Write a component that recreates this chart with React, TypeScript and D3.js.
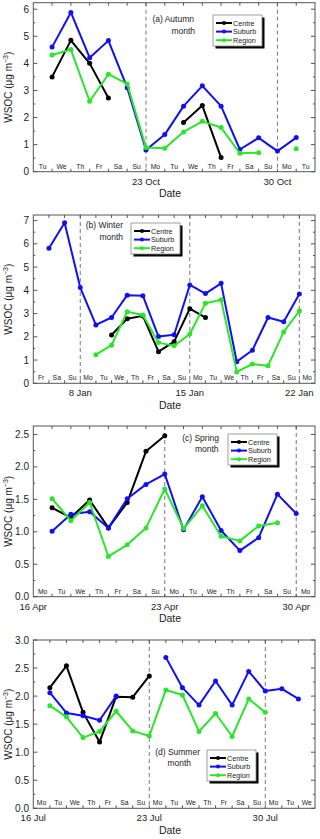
import React from "react";
import * as d3 from "d3";

// ---------- DATA ----------
const seriesNames = ["Centre", "Suburb", "Region"];
const seriesColors = ["#000000", "#1010f0", "#2ae62a"];

const autumnDates = ["2017-10-18","2017-10-19","2017-10-20","2017-10-21","2017-10-22","2017-10-23","2017-10-24","2017-10-25","2017-10-26","2017-10-27","2017-10-28","2017-10-29","2017-10-30","2017-10-31"];
const autumnCentre = [3.5, 4.85, 4.0, 2.72, null, null, null, 1.82, 2.44, 0.52, null, null, null, null];
const autumnSuburb = [4.6, 5.88, 4.21, 4.84, 3.1, 0.8, 1.37, 2.42, 3.17, 2.42, 0.82, 1.25, 0.76, 1.26];
const autumnRegion = [4.31, 4.51, 2.6, 3.6, 3.24, 0.89, 0.87, 1.47, 1.86, 1.63, 0.68, 0.7, null, 0.85];

const winterDates = ["2018-01-06","2018-01-07","2018-01-08","2018-01-09","2018-01-10","2018-01-11","2018-01-12","2018-01-13","2018-01-14","2018-01-15","2018-01-16","2018-01-17","2018-01-18","2018-01-19","2018-01-20","2018-01-21","2018-01-22"];
const winterCentre = [null, null, null, null, 2.08, 2.78, 2.9, 1.36, 1.79, 3.21, 2.83, null, null, null, null, null, null];
const winterSuburb = [5.81, 6.91, 4.12, 2.51, 2.83, 3.79, 3.77, 2.01, 2.09, 4.23, 3.86, 4.3, 0.93, 1.42, 2.83, 2.65, 3.84];
const winterRegion = [null, null, null, 1.23, 1.64, 3.08, 2.94, 1.75, 1.61, 2.12, 3.44, 3.59, 0.49, 0.83, 0.76, 2.21, 3.11];

const springDates = ["2018-04-17","2018-04-18","2018-04-19","2018-04-20","2018-04-21","2018-04-22","2018-04-23","2018-04-24","2018-04-25","2018-04-26","2018-04-27","2018-04-28","2018-04-29","2018-04-30"];
const springCentre = [1.37, 1.22, 1.49, 1.06, 1.45, 2.24, 2.48, null, null, null, null, null, null, null];
const springSuburb = [1.01, 1.27, 1.31, 1.06, 1.51, 1.73, 1.89, 1.03, 1.54, 1.02, 0.71, 0.91, 1.58, 1.28];
const springRegion = [1.51, 1.17, 1.45, 0.62, 0.8, 1.06, 1.66, 1.05, 1.4, 0.93, 0.86, 1.09, 1.14, null];

const summerDates = ["2018-07-17","2018-07-18","2018-07-19","2018-07-20","2018-07-21","2018-07-22","2018-07-23","2018-07-24","2018-07-25","2018-07-26","2018-07-27","2018-07-28","2018-07-29","2018-07-30","2018-07-31","2018-08-01"];
const summerCentre = [2.15, 2.54, 1.71, 1.18, 1.99, 1.98, 2.36, null, null, null, null, null, null, null, null, null];
const summerSuburb = [2.06, 1.7, 1.65, 1.57, 2.0, null, null, 2.69, 2.15, 1.84, 2.27, 1.84, 2.44, 2.09, 2.13, 1.95];
const summerRegion = [1.83, 1.63, 1.26, 1.37, 1.73, 1.38, 1.29, 2.11, 2.02, 1.37, 1.69, 1.28, 1.95, 1.71, null, null];

const dayAbbr = ["Su", "Mo", "Tu", "We", "Th", "Fr", "Sa"];

const panels = [
  {
    title: ["(a) Autumn", "month"], dates: autumnDates, series: [autumnCentre, autumnSuburb, autumnRegion],
    xStart: "2017-10-17", xEnd: "2017-11-01", weekLines: ["2017-10-23", "2017-10-30"], weekLabels: ["23 Oct", "30 Oct"],
    yMax: 6.24, yTicks: [0, 1, 2, 3, 4, 5, 6], yMinor: 0.5, yFmt: "d",
    top: 2.7, bottom: 171.7, titlePos: [194, 22, 195, 33.5], legendPos: [213, 15],
  },
  {
    title: ["(b) Winter", "month"], dates: winterDates, series: [winterCentre, winterSuburb, winterRegion],
    xStart: "2018-01-05", xEnd: "2018-01-23", weekLines: ["2018-01-08", "2018-01-15", "2018-01-22"], weekLabels: ["8 Jan", "15 Jan", "22 Jan"],
    yMax: 7.24, yTicks: [0, 1, 2, 3, 4, 5, 6, 7], yMinor: 0.5, yFmt: "d",
    top: 215, bottom: 383.3, titlePos: [123, 228, 123, 239.5], legendPos: [131, 223],
  },
  {
    title: ["(c) Spring", "month"], dates: springDates, series: [springCentre, springSuburb, springRegion],
    xStart: "2018-04-16", xEnd: "2018-05-01", weekLines: ["2018-04-23", "2018-04-30"], weekLabels: ["23 Apr", "30 Apr"],
    yMax: 2.63, yTicks: [0, 0.5, 1, 1.5, 2, 2.5], yMinor: 0.25, yFmt: ".1f",
    top: 426, bottom: 596.7, titlePos: [219, 441, 218.5, 452], legendPos: [228, 434],
    startLabel: "16 Apr",
  },
  {
    title: ["(d) Summer", "month"], dates: summerDates, series: [summerCentre, summerSuburb, summerRegion],
    xStart: "2018-07-16", xEnd: "2018-08-02", weekLines: ["2018-07-23", "2018-07-30"], weekLabels: ["23 Jul", "30 Jul"],
    yMax: 3.0, yTicks: [0, 0.5, 1, 1.5, 2, 2.5, 3], yMinor: 0.25, yFmt: ".1f",
    top: 640, bottom: 808.3, titlePos: [200, 754.5, 191, 766], legendPos: [207, 750],
    startLabel: "16 Jul",
  },
];

const LEFT = 33.3;
const RIGHT = 315;
const FONT = "'Liberation Sans', Arial, sans-serif";
const FRAME = "#555";
const TXT = "#222";

function Panel({ p }: { p: any }) {
  const parse = (s: string) => new Date(s + "T00:00:00Z");
  const x = d3.scaleUtc().domain([parse(p.xStart), parse(p.xEnd)]).range([LEFT, RIGHT]);
  const y = d3.scaleLinear().domain([0, p.yMax]).range([p.bottom, p.top]);
  const days = d3.utcDay.range(parse(p.xStart), parse(p.xEnd));
  const boundaries = d3.utcDay.range(d3.utcDay.offset(parse(p.xStart), 1), parse(p.xEnd));
  const fmt = d3.format(p.yFmt);
  const minors: number[] = [];
  for (let v = 0; v <= p.yMax + 1e-9; v += p.yMinor) minors.push(v);
  const dayW = x(days[1] ?? parse(p.xEnd)) - x(days[0]);

  const line = d3.line<any>()
    .defined((d) => d.v != null)
    .x((d) => x(d.date))
    .y((d) => y(d.v));

  const seriesData = p.series.map((vals: (number | null)[]) =>
    vals.map((v, i) => ({ date: parse(p.dates[i]), v }))
  );

  const [lx, ly] = p.legendPos;
  const midY = (p.top + p.bottom) / 2;

  return (
    <g>
      {p.weekLines.map((s: string) => (
        <line key={s} x1={x(parse(s))} x2={x(parse(s))} y1={p.top} y2={p.bottom}
          stroke="#777" strokeWidth={1} strokeDasharray="4,3" />
      ))}
      {boundaries.map((d, i) => (
        <g key={i}>
          <line x1={x(d)} x2={x(d)} y1={p.bottom} y2={p.bottom - 3} stroke={FRAME} strokeWidth={1} />
          <line x1={x(d)} x2={x(d)} y1={p.top} y2={p.top + 3} stroke={FRAME} strokeWidth={1} />
        </g>
      ))}
      {minors.map((v, i) => {
        const major = p.yTicks.some((t: number) => Math.abs(t - v) < 1e-9);
        const len = major ? 4 : 2;
        return (
          <g key={i}>
            <line x1={LEFT} x2={LEFT + len} y1={y(v)} y2={y(v)} stroke={FRAME} strokeWidth={1} />
            <line x1={RIGHT} x2={RIGHT - len} y1={y(v)} y2={y(v)} stroke={FRAME} strokeWidth={1} />
          </g>
        );
      })}
      {p.yTicks.map((t: number) => (
        <text key={t} x={29} y={y(t)} dy="0.35em" textAnchor="end" fontSize={10} fill={TXT} fontFamily={FONT}>
          {fmt(t)}
        </text>
      ))}
      {days.map((d, i) => (
        <text key={i} x={x(d) + dayW / 2} y={p.bottom - 3} textAnchor="middle" fontSize={6.8} fill={TXT} fontFamily={FONT}>
          {dayAbbr[d.getUTCDay()]}
        </text>
      ))}
      {p.weekLines.map((s: string, i: number) => (
        <text key={s} x={x(parse(s))} y={p.bottom + 13} textAnchor="middle" fontSize={9.5} fill={TXT} fontFamily={FONT}>
          {p.weekLabels[i]}
        </text>
      ))}
      {p.startLabel && (
        <text x={x(parse(p.xStart))} y={p.bottom + 13} textAnchor="middle" fontSize={9.5} fill={TXT} fontFamily={FONT}>
          {p.startLabel}
        </text>
      )}
      <text x={170} y={p.bottom + 25.5} textAnchor="middle" fontSize={10.5} fill={TXT} fontFamily={FONT}>Date</text>
      <text transform={`translate(11.5,${midY}) rotate(-90)`} textAnchor="middle" fontSize={10} fill={TXT} fontFamily={FONT}>
        WSOC (μg m<tspan dy={-4} fontSize={7}>−3</tspan><tspan dy={4}>)</tspan>
      </text>
      {seriesData.map((sd: any[], si: number) => (
        <g key={si}>
          <path d={line(sd) || ""} fill="none" stroke={seriesColors[si]} strokeWidth={2} strokeLinejoin="round" />
          {sd.filter((d) => d.v != null).map((d, j) => (
            <circle key={j} cx={x(d.date)} cy={y(d.v)} r={2.5} fill={seriesColors[si]} />
          ))}
        </g>
      ))}
      <rect x={LEFT} y={p.top} width={RIGHT - LEFT} height={p.bottom - p.top} fill="none" stroke={FRAME} strokeWidth={1} />
      <text x={p.titlePos[0]} y={p.titlePos[1]} textAnchor="end" fontSize={8.5} fill={TXT} fontFamily={FONT}>{p.title[0]}</text>
      <text x={p.titlePos[2]} y={p.titlePos[3]} textAnchor="end" fontSize={8.5} fill={TXT} fontFamily={FONT}>{p.title[1]}</text>
      <rect x={lx + 2.5} y={ly + 2.5} width={49} height={31} fill="#000" />
      <rect x={lx} y={ly} width={49} height={31} fill="#fff" stroke="#888" strokeWidth={0.8} />
      {seriesNames.map((n, i) => (
        <g key={n}>
          <line x1={lx + 3} x2={lx + 19} y1={ly + 8 + i * 8.6} y2={ly + 8 + i * 8.6} stroke={seriesColors[i]} strokeWidth={2} />
          <circle cx={lx + 11} cy={ly + 8 + i * 8.6} r={2} fill={seriesColors[i]} />
          <text x={lx + 20} y={ly + 8 + i * 8.6} dy="0.35em" fontSize={7.2} fill={TXT} fontFamily={FONT}>{n}</text>
        </g>
      ))}
    </g>
  );
}

export default function App() {
  return (
    <svg width={320} height={839} style={{ position: "absolute", left: 0, top: 0, background: "#fff" }}>
      <rect x={0} y={0} width={320} height={839} fill="#fff" />
      {panels.map((p, i) => <Panel key={i} p={p} />)}
    </svg>
  );
}
